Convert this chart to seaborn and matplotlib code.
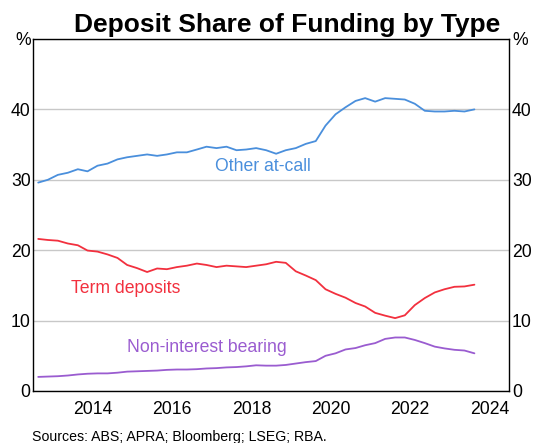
import pandas as pd
import numpy as np
import matplotlib
matplotlib.use("Agg")
import matplotlib.pyplot as plt
import matplotlib.dates as mdates
import seaborn as sns

# quarterly readings, Feb 2013 to Feb 2024 (per cent of funding)
dates = pd.date_range("2013-02-15", periods=45, freq=pd.DateOffset(months=3))

other_at_call = [29.6, 30.0, 30.7, 31.0, 31.5, 31.2, 32.0, 32.3, 32.9, 33.2,
                 33.4, 33.6, 33.4, 33.6, 33.9, 33.9, 34.3, 34.7, 34.5, 34.7,
                 34.2, 34.3, 34.5, 34.2, 33.7, 34.2, 34.5, 35.1, 35.5, 37.7,
                 39.3, 40.3, 41.2, 41.6, 41.1, 41.6, 41.5, 41.4, 40.8, 39.8,
                 39.7, 39.7, 39.8, 39.7, 40.0]
term_deposits = [21.6, 21.45, 21.35, 20.95, 20.7, 19.95, 19.8, 19.4, 18.9, 17.9,
                 17.45, 16.9, 17.4, 17.3, 17.6, 17.8, 18.1, 17.9, 17.6, 17.8,
                 17.7, 17.6, 17.8, 18.0, 18.35, 18.2, 17.0, 16.4, 15.75, 14.45,
                 13.8, 13.25, 12.5, 12.0, 11.1, 10.7, 10.35, 10.75, 12.2, 13.2,
                 14.0, 14.45, 14.8, 14.85, 15.1]
non_interest = [2.0, 2.05, 2.1, 2.2, 2.35, 2.45, 2.5, 2.5, 2.6, 2.75,
                2.8, 2.85, 2.9, 3.0, 3.05, 3.05, 3.1, 3.2, 3.25, 3.35,
                3.4, 3.5, 3.65, 3.6, 3.6, 3.7, 3.9, 4.1, 4.25, 5.0,
                5.35, 5.9, 6.1, 6.5, 6.8, 7.4, 7.6, 7.6, 7.25, 6.8,
                6.3, 6.05, 5.85, 5.75, 5.35]

series_names = ["Other at-call", "Term deposits", "Non-interest bearing"]
colors = {"Other at-call": "#4a8fdc", "Term deposits": "#f2303e",
          "Non-interest bearing": "#9a5cd0"}

df = pd.DataFrame({"date": dates, "Other at-call": other_at_call,
                   "Term deposits": term_deposits,
                   "Non-interest bearing": non_interest})
long = df.melt(id_vars="date", var_name="series", value_name="share")

sns.set_style("white")
plt.rcParams["font.family"] = ["Liberation Sans", "DejaVu Sans"]
plt.rcParams["text.color"] = "black"
plt.rcParams["xtick.color"] = "black"
plt.rcParams["ytick.color"] = "black"

fig = plt.figure(figsize=(5.34, 4.43), dpi=100)
ax = fig.add_axes([0.0624, 0.1174, 0.8913, 0.7946])

sns.lineplot(data=long, x="date", y="share", hue="series", palette=colors,
             hue_order=series_names, linewidth=1.3, legend=False, ax=ax)

# inline labels
label_pos = {"Other at-call": ("2018-10-15", 31.9),
             "Term deposits": ("2015-05-01", 14.5),
             "Non-interest bearing": ("2017-05-20", 6.2)}
for name, (d, y) in label_pos.items():
    ax.text(pd.Timestamp(d), y, name, color=colors[name], fontsize=12.7,
            ha="center", va="center")

ax.set_xlim(pd.Timestamp("2013-01-01"), pd.Timestamp("2025-01-01"))
ax.set_ylim(0, 50)
ax.set_yticks([0, 10, 20, 30, 40, 50])
ax.set_yticklabels(["0", "10", "20", "30", "40", "%"])
ax.yaxis.grid(True, color="#c8c8c8", linewidth=1)
ax.set_axisbelow(True)
ax.tick_params(axis="y", length=0, labelsize=12.7, pad=2,
               labelleft=True, labelright=True)

# year ticks at year start, labels mid-year every other year
ax.xaxis.set_major_locator(mdates.YearLocator(1))
ax.xaxis.set_major_formatter(plt.NullFormatter())
mids = [pd.Timestamp(f"{y}-07-02") for y in range(2014, 2025, 2)]
ax.set_xticks(mids, minor=True)
ax.set_xticklabels([str(y) for y in range(2014, 2025, 2)], minor=True)
ax.tick_params(axis="x", which="major", direction="in", length=7, width=1,
               color="black")
ax.tick_params(axis="x", which="minor", length=0, labelsize=12.7, pad=7)

for s in ax.spines.values():
    s.set_visible(True)
    s.set_color("black")
    s.set_linewidth(1)

ax.set_xlabel("")
ax.set_ylabel("")
fig.text(287.5 / 534, 1 - 32 / 443, "Deposit Share of Funding by Type",
         fontsize=19, fontweight="bold", ha="center", va="baseline")
fig.text(0.06, 0.014, "Sources: ABS; APRA; Bloomberg; LSEG; RBA.", fontsize=10.2,
         ha="left", va="center")

fig.savefig("out.png", dpi=100)
